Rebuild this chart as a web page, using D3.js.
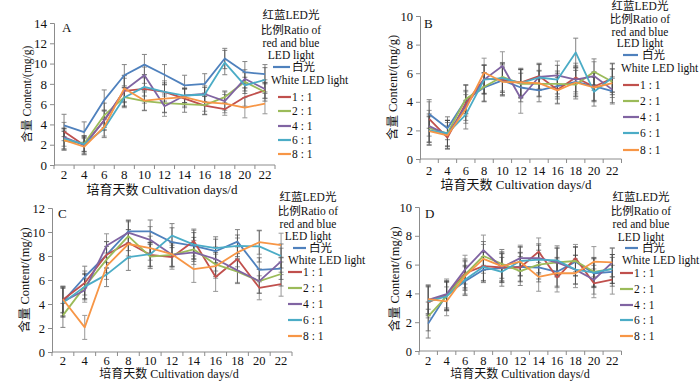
<!DOCTYPE html>
<html>
<head>
<meta charset="utf-8">
<script src="https://cdn.jsdelivr.net/npm/d3@7"></script>
<style>
  html, body { margin: 0; padding: 0; background: #fff; }
  svg { display: block; font-family: "Liberation Serif", "Noto Sans CJK SC", serif; }
</style>
</head>
<body>
<div id="chart"></div>
<script>
(function () {
  'use strict';

  const days = ['2', '4', '6', '8', '10', '12', '14', '16', '18', '20', '22'];
  const seriesNames = ['白光', '1 : 1', '2 : 1', '4 : 1', '6 : 1', '8 : 1'];
  const colors = ['#4F81BD', '#C0504D', '#9BBB59', '#8064A2', '#4BACC6', '#F79646'];
  const legendTitle = ['红蓝LED光', '比例Ratio of', 'red and blue', 'LED light'];
  const whiteLabel = 'White LED light';
  const yLabel = '含量 Content/(mg/g)';
  const xLabel = '培育天数 Cultivation days/d';

  // values per series: white, 1:1, 2:1, 4:1, 6:1, 8:1
  const valuesA = [
    [3.9, 3.25, 6.4, 8.85, 9.9, 8.9, 7.85, 8.0, 10.5, 9.15, 8.95],
    [3.3, 1.95, 4.4, 7.3, 7.5, 7.2, 6.55, 5.85, 5.5, 6.7, 7.35],
    [2.4, 2.1, 4.9, 6.7, 6.3, 6.1, 6.0, 5.9, 6.7, 8.2, 7.2],
    [2.75, 1.95, 4.4, 7.35, 8.85, 5.8, 6.85, 7.0, 6.3, 8.5, 7.5],
    [2.6, 2.05, 3.6, 6.65, 7.7, 7.2, 6.85, 6.95, 10.1, 7.85, 8.4],
    [2.45, 1.8, 3.75, 7.55, 6.35, 6.55, 6.7, 6.2, 6.05, 5.65, 6.05]
  ];
  const errorsA = [
    [1.1, 1.0, 1.0, 1.05, 1.0, 1.0, 1.0, 1.0, 1.0, 1.05, 0.95],
    [0.9, 0.9, 0.9, 1.5, 1.4, 1.1, 0.9, 0.9, 0.6, 0.9, 0.8],
    [0.9, 0.8, 1.2, 0.9, 0.9, 0.9, 0.8, 0.9, 0.6, 0.9, 0.9],
    [0.9, 0.8, 1.0, 1.2, 0.8, 1.0, 0.7, 0.8, 0.9, 0.9, 0.9],
    [1.0, 0.7, 0.9, 1.0, 0.9, 0.9, 0.7, 0.7, 1.2, 0.8, 1.2],
    [1.0, 0.8, 0.9, 1.3, 1.0, 1.4, 0.9, 0.9, 0.9, 1.0, 1.0]
  ];

  const valuesB = [
    [3.15, 2.15, 4.15, 5.0, 5.5, 5.0, 4.8, 5.1, 5.4, 5.1, 4.75],
    [2.8, 1.5, 3.9, 5.6, 5.55, 5.35, 5.8, 4.85, 5.7, 5.05, 5.65],
    [2.15, 1.8, 4.2, 5.05, 5.75, 5.25, 5.25, 5.25, 5.2, 6.1, 5.4],
    [2.3, 1.7, 3.7, 5.55, 6.5, 4.25, 5.75, 5.85, 5.55, 5.8, 4.85],
    [2.0, 1.8, 3.1, 5.55, 5.65, 5.3, 5.7, 5.55, 7.45, 4.7, 5.7],
    [1.95, 1.65, 3.5, 6.05, 5.4, 5.35, 5.3, 4.8, 5.35, 5.0, 5.3]
  ];
  const errorsB = [
    [1.0, 0.8, 1.0, 1.0, 1.0, 1.0, 0.8, 0.9, 1.0, 1.0, 0.9],
    [1.2, 0.8, 0.9, 1.0, 1.1, 0.9, 0.9, 1.0, 1.0, 1.0, 1.0],
    [1.0, 0.9, 1.0, 1.0, 1.0, 1.0, 0.9, 0.9, 1.0, 0.9, 0.9],
    [1.1, 1.0, 1.0, 1.0, 1.0, 1.05, 0.9, 1.0, 1.0, 1.0, 0.9],
    [1.0, 0.9, 1.0, 1.0, 1.0, 1.0, 0.9, 1.0, 1.0, 1.0, 1.0],
    [1.0, 0.9, 1.0, 1.0, 1.0, 1.0, 0.9, 0.9, 1.0, 1.0, 1.0]
  ];

  const valuesC = [
    [4.2, 6.25, 8.1, 10.05, 10.05, 9.15, 8.85, 8.4, 9.2, 6.85, 6.95],
    [4.35, 5.75, 8.1, 9.1, 8.1, 7.9, 9.25, 6.25, 7.75, 5.35, 5.65],
    [3.05, 5.45, 7.7, 9.65, 7.95, 8.1, 8.55, 7.3, 6.7, 5.9, 6.5],
    [4.2, 5.15, 8.85, 9.95, 9.35, 8.1, 8.3, 7.75, 6.8, 5.9, 7.55],
    [4.1, 5.45, 6.45, 7.9, 8.15, 9.7, 8.95, 8.65, 8.85, 8.8, 8.0],
    [4.4, 2.05, 7.15, 9.0, 8.65, 8.15, 6.9, 7.15, 8.3, 9.15, 8.9]
  ];
  const errorsC = [
    [1.2, 0.9, 1.1, 0.95, 0.95, 1.2, 1.1, 1.0, 1.0, 1.0, 0.9],
    [1.1, 1.0, 1.1, 1.1, 1.0, 1.0, 1.0, 1.2, 1.0, 1.0, 1.0],
    [1.0, 1.1, 1.1, 1.2, 1.0, 1.0, 1.0, 1.0, 1.0, 1.0, 1.0],
    [1.2, 1.0, 1.0, 1.0, 1.1, 1.0, 1.0, 1.0, 1.0, 1.0, 1.1],
    [1.2, 1.0, 1.0, 1.1, 1.0, 1.0, 1.2, 0.95, 0.9, 1.3, 1.0],
    [1.1, 1.0, 1.1, 1.2, 1.0, 1.0, 1.1, 1.0, 1.2, 1.0, 1.0]
  ];

  const valuesD = [
    [1.9, 3.9, 4.85, 5.65, 5.75, 5.85, 5.8, 5.5, 6.2, 5.4, 5.5],
    [3.4, 3.9, 5.4, 5.9, 5.8, 5.8, 6.9, 5.1, 6.45, 4.7, 4.95],
    [2.4, 3.8, 5.3, 6.6, 6.05, 5.55, 6.0, 6.15, 6.25, 5.5, 5.7],
    [3.55, 3.95, 5.65, 7.0, 5.8, 6.45, 6.45, 6.15, 5.65, 4.95, 6.15],
    [3.45, 3.8, 4.95, 5.85, 5.5, 6.25, 6.35, 6.3, 5.65, 5.45, 5.7],
    [3.6, 3.45, 5.2, 6.4, 5.9, 6.2, 5.15, 5.4, 5.4, 6.2, 6.15]
  ];
  const errorsD = [
    [1.0, 1.0, 1.0, 0.9, 1.0, 1.0, 1.0, 1.0, 1.0, 1.0, 1.0],
    [1.1, 0.9, 1.0, 1.0, 1.0, 1.0, 0.95, 1.0, 0.95, 1.0, 1.0],
    [1.0, 1.0, 1.0, 1.0, 1.0, 1.0, 1.0, 1.0, 1.0, 1.0, 1.0],
    [1.0, 1.05, 1.0, 1.05, 1.0, 0.9, 1.0, 1.0, 1.0, 1.0, 1.0],
    [1.0, 1.0, 1.0, 1.0, 1.0, 1.0, 1.0, 1.0, 1.0, 1.0, 1.0],
    [1.0, 1.0, 1.0, 1.0, 1.0, 1.0, 1.0, 1.0, 1.0, 1.05, 1.0]
  ];

  const yMaxes = [14, 10, 12, 10];

  const W = 700, H = 381;
  const svg = d3.select('#chart').append('svg').attr('width', W).attr('height', H);

  const panels = [
    { tag: 'A', vals: valuesA, errs: errorsA, yMax: yMaxes[0],
      x0: 54, x1: 275, yTop: 23, yBot: 165, tickFs: 13, tickDy: 9.5, axFs: 13, yLabFs: 11.5,
      yLabX: 27, xLabX: 162, xLabY: 189, tagX: 62, tagY: 27,
      lg: { cx: 291, tY: [15, 30, 43, 55], wLine: [273, 290], wY: 67, wTextX: 292, wLabX: 271, wLabY: 80,
            line: [278, 291], textX: 292, eY: [97, 111, 126, 140, 154], fs: 11.5 } },
    { tag: 'B', vals: valuesB, errs: errorsB, yMax: yMaxes[1],
      x0: 420, x1: 621.5, yTop: 16, yBot: 159, tickFs: 12.5, tickDy: 11.5, axFs: 13, yLabFs: 12.5,
      yLabX: 393, xLabX: 516, xLabY: 184.5, tagX: 424, tagY: 23,
      lg: { cx: 640, tY: [6, 19, 32, 43], wLine: [623, 638], wY: 55, wTextX: 642, wLabX: 621, wLabY: 68,
            line: [623, 639], textX: 640, eY: [85, 101, 117, 133, 150], fs: 11.5 } },
    { tag: 'C', vals: valuesC, errs: errorsC, yMax: yMaxes[2],
      x0: 52, x1: 292, yTop: 208, yBot: 352, tickFs: 12.5, tickDy: 9, axFs: 12, yLabFs: 12.5,
      yLabX: 25, xLabX: 169, xLabY: 373.5, tagX: 58, tagY: 213,
      lg: { cx: 308, tY: [197, 211, 224, 236], wLine: [293, 306], wY: 248, wTextX: 309, wLabX: 288, wLabY: 260,
            line: [288, 302], textX: 303, eY: [272, 288, 304, 320, 336], fs: 11.5 } },
    { tag: 'D', vals: valuesD, errs: errorsD, yMax: yMaxes[3],
      x0: 419, x1: 621.5, yTop: 207, yBot: 351, tickFs: 12.5, tickDy: 9.5, axFs: 12, yLabFs: 12.5,
      yLabX: 395, xLabX: 520, xLabY: 373.5, tagX: 425, tagY: 213,
      lg: { cx: 641, tY: [197, 211, 224, 237], wLine: [625, 638], wY: 248, wTextX: 642, wLabX: 622, wLabY: 260,
            line: [620, 633], textX: 634, eY: [273, 289, 305, 320, 336], fs: 11.5 } }
  ];

  panels.forEach((p) => {
    const g = svg.append('g');
    const x = d3.scaleBand().domain(days).range([p.x0, p.x1]);
    const y = d3.scaleLinear().domain([0, p.yMax]).range([p.yBot, p.yTop]);
    const cx = (d) => x(d) + x.bandwidth() / 2;

    // y axis
    const ya = g.append('g')
      .attr('transform', `translate(${p.x0},0)`)
      .call(d3.axisLeft(y).tickValues(d3.range(0, p.yMax + 1, 2)).tickSize(4).tickPadding(3));
    ya.attr('font-family', null);
    ya.selectAll('text').attr('fill', '#111').style('font-size', p.tickFs + 'px');

    // x axis, ticks on band edges
    const xa = g.append('g').attr('transform', `translate(0,${p.yBot})`);
    xa.append('line').attr('x1', p.x0).attr('x2', p.x1).attr('y1', 0).attr('y2', 0);
    xa.selectAll('.edge').data(days.concat(['end'])).enter().append('line')
      .attr('x1', (d, i) => p.x0 + i * x.bandwidth())
      .attr('x2', (d, i) => p.x0 + i * x.bandwidth())
      .attr('y1', 0).attr('y2', 4);
    xa.selectAll('text').data(days).enter().append('text')
      .attr('x', cx).attr('y', p.tickDy).attr('dy', '0.35em')
      .attr('text-anchor', 'middle').attr('fill', '#111')
      .style('font-size', p.tickFs + 'px').text((d) => d);

    g.selectAll('.domain, .tick line').attr('stroke', '#8c8c8c');
    xa.selectAll('line').attr('stroke', '#8c8c8c');

    // axis titles
    g.append('text')
      .attr('transform', `translate(${p.yLabX},${(p.yTop + p.yBot) / 2}) rotate(-90)`)
      .attr('text-anchor', 'middle').attr('dy', '0.35em').attr('fill', '#111')
      .style('font-size', p.yLabFs + 'px').text(yLabel);
    g.append('text')
      .attr('x', p.xLabX).attr('y', p.xLabY).attr('dy', '0.35em')
      .attr('text-anchor', 'middle').attr('fill', '#111')
      .style('font-size', p.axFs + 'px').text(xLabel);

    g.append('text').attr('x', p.tagX).attr('y', p.tagY).attr('dy', '0.35em')
      .attr('fill', '#111').style('font-size', '13px').text(p.tag);

    // error bars
    p.vals.forEach((vals, s) => {
      const eb = g.append('g').attr('stroke', s % 2 ? '#555' : '#333')
        .attr('stroke-width', 1).attr('opacity', 0.6);
      vals.forEach((v, i) => {
        const e = p.errs[s][i];
        const xx = cx(days[i]);
        eb.append('line').attr('x1', xx).attr('x2', xx).attr('y1', y(v - e)).attr('y2', y(v + e));
        [v - e, v + e].forEach((t) => {
          eb.append('line').attr('x1', xx - 2.5).attr('x2', xx + 2.5).attr('y1', y(t)).attr('y2', y(t));
        });
      });
    });

    // series lines
    const line = d3.line().x((d) => cx(d.day)).y((d) => y(d.v));
    p.vals.forEach((vals, s) => {
      g.append('path')
        .datum(vals.map((v, i) => ({ day: days[i], v })))
        .attr('fill', 'none').attr('stroke', colors[s]).attr('stroke-width', 1.8)
        .attr('stroke-linejoin', 'round')
        .attr('d', line);
    });

    // legend
    const lg = g.append('g').attr('fill', '#111').style('font-size', p.lg.fs + 'px');
    legendTitle.forEach((t, i) => {
      lg.append('text').attr('x', p.lg.cx).attr('y', p.lg.tY[i]).attr('dy', '0.35em')
        .attr('text-anchor', 'middle').text(t);
    });
    lg.append('line').attr('x1', p.lg.wLine[0]).attr('x2', p.lg.wLine[1])
      .attr('y1', p.lg.wY).attr('y2', p.lg.wY).attr('stroke', colors[0]).attr('stroke-width', 2.2);
    lg.append('text').attr('x', p.lg.wTextX).attr('y', p.lg.wY).attr('dy', '0.35em').text(seriesNames[0]);
    lg.append('text').attr('x', p.lg.wLabX).attr('y', p.lg.wLabY).attr('dy', '0.35em').text(whiteLabel);
    seriesNames.slice(1).forEach((n, i) => {
      const yy = p.lg.eY[i];
      lg.append('line').attr('x1', p.lg.line[0]).attr('x2', p.lg.line[1])
        .attr('y1', yy).attr('y2', yy).attr('stroke', colors[i + 1]).attr('stroke-width', 2.2);
      lg.append('text').attr('x', p.lg.textX).attr('y', yy).attr('dy', '0.35em').text(n);
    });
  });
})();
</script>
</body>
</html>
